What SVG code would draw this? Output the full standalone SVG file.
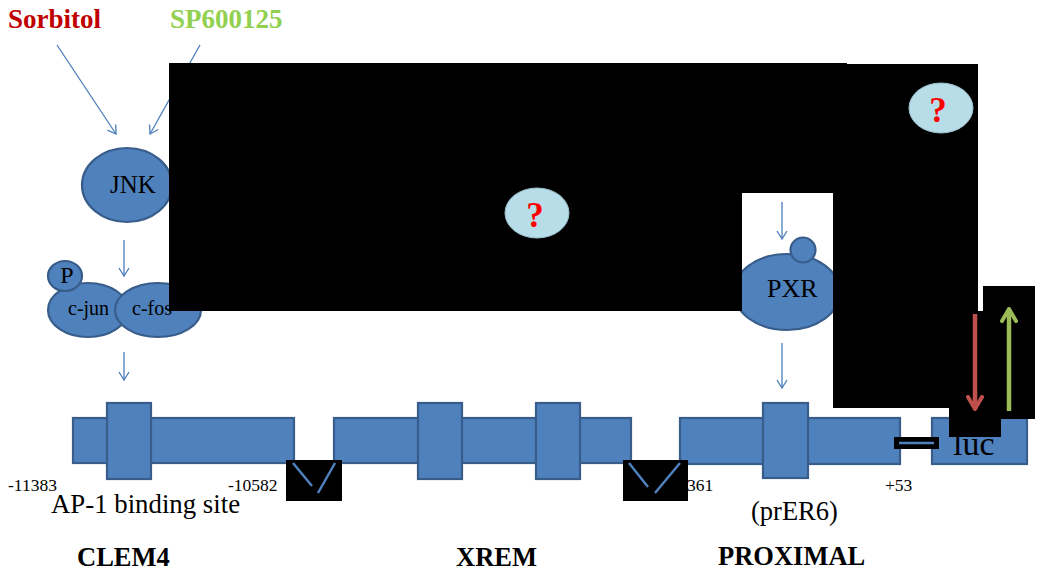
<svg xmlns="http://www.w3.org/2000/svg" width="1040" height="571" viewBox="0 0 1040 571">
<style>
.shape{fill:#4f81bd;stroke:#385d8a;stroke-width:2.2}
.t{font-family:"Liberation Serif","Times New Roman",serif;fill:#000}
.b{font-weight:bold}
.conn{stroke:#4a7ebb;stroke-width:1.3;fill:none}
.blk{fill:#000}
.brk{stroke:#4f81bd;stroke-width:2.5;fill:none}
.q{fill:#b7dde8;stroke:#9cc3d0;stroke-width:1}
.qt{font-family:"Liberation Serif",serif;font-weight:bold;fill:#ff0000;font-size:35px;text-anchor:middle}
</style>
<defs>
<marker id="ab" viewBox="-10 -6 12 12" refX="0" refY="0" markerWidth="12" markerHeight="12" markerUnits="userSpaceOnUse" orient="auto">
<path d="M-8,-5 L0,0 L-8,5" fill="none" stroke="#4a7ebb" stroke-width="1.3"/>
</marker>
<marker id="ar" viewBox="-14 -9 16 18" refX="0" refY="0" markerWidth="16" markerHeight="18" markerUnits="userSpaceOnUse" orient="auto">
<path d="M-12,-7 L0,0 L-12,7" fill="none" stroke="#c0504d" stroke-width="4" stroke-linecap="round" stroke-linejoin="round"/>
</marker>
<marker id="ag" viewBox="-14 -9 16 18" refX="0" refY="0" markerWidth="16" markerHeight="18" markerUnits="userSpaceOnUse" orient="auto">
<path d="M-12,-7 L0,0 L-12,7" fill="none" stroke="#9bbb59" stroke-width="4" stroke-linecap="round" stroke-linejoin="round"/>
</marker>
</defs>
<rect width="1040" height="571" fill="#fff"/>

<g id="sorbitol"><text class="t b" x="8" y="28" font-size="27" style="fill:#c00000">Sorbitol</text></g>
<g id="sp600125"><text class="t b" x="170" y="28" font-size="27" style="fill:#92d050">SP600125</text></g>

<g id="jnk">
<ellipse class="shape" cx="127" cy="185" rx="45" ry="37"/>
<text class="t" x="110" y="193" font-size="25">JNK</text>
</g>

<g id="cjun-cfos">
<ellipse class="shape" cx="88" cy="310" rx="40" ry="27"/>
<ellipse class="shape" cx="158" cy="310" rx="43" ry="27"/>
<text class="t" x="68" y="315" font-size="20">c-jun</text>
<text class="t" x="132" y="315" font-size="20">c-fos</text>
</g>
<g id="p">
<ellipse class="shape" cx="65" cy="276" rx="17" ry="15"/>
<text class="t" x="67" y="283" font-size="24" text-anchor="middle">P</text>
</g>

<g id="pxr">
<ellipse class="shape" cx="787" cy="292" rx="53" ry="38"/>
<circle class="shape" cx="803" cy="250" r="12.5"/>
<text class="t" x="767" y="297" font-size="26">PXR</text>
</g>

<g id="clem4">
<rect class="shape" x="73" y="418" width="221" height="45"/>
<rect class="shape" x="107" y="403" width="44" height="76"/>
</g>
<g id="xrem">
<rect class="shape" x="334" y="418" width="297" height="45"/>
<rect class="shape" x="418" y="403" width="44" height="76"/>
<rect class="shape" x="536" y="403" width="44" height="76"/>
</g>
<g id="proximal">
<rect class="shape" x="680" y="418" width="220" height="46"/>
<rect class="shape" x="763" y="403" width="45" height="75"/>
</g>
<g id="luc">
<rect class="shape" x="932" y="418" width="95" height="46"/>
<text class="t" x="953" y="455" font-size="34">luc</text>
</g>

<g id="connectors">
<line class="conn" x1="57" y1="45" x2="116" y2="134" marker-end="url(#ab)"/>
<line class="conn" x1="200" y1="45" x2="150" y2="134" marker-end="url(#ab)"/>
<line class="conn" x1="124" y1="240" x2="124" y2="276" marker-end="url(#ab)"/>
<line class="conn" x1="124" y1="352" x2="124" y2="380" marker-end="url(#ab)"/>
<line class="conn" x1="782" y1="202" x2="782" y2="239" marker-end="url(#ab)"/>
<line class="conn" x1="782" y1="343" x2="782" y2="388" marker-end="url(#ab)"/>
</g>

<g id="labels">
<text class="t" x="8" y="491" font-size="17.5">-11383</text>
<text class="t" x="228" y="491" font-size="17.5">-10582</text>
<text class="t" x="687" y="491" font-size="17.5">361</text>
<text class="t" x="885" y="491" font-size="17.5">+53</text>
<text class="t" x="51" y="513" font-size="26.8">AP-1 binding site</text>
<text class="t" x="751" y="520" font-size="26.5">(prER6)</text>
<text class="t b" x="77" y="566" font-size="26.5">CLEM4</text>
<text class="t b" x="456" y="566" font-size="26.5">XREM</text>
<text class="t b" x="718" y="565" font-size="26.5">PROXIMAL</text>
</g>

<g id="masks">
<polygon class="blk" points="169,63 847,63 847,64 978,64 978,408 833,408 833,193 742,193 742,311 169,311"/>
<rect class="blk" x="286" y="460" width="56" height="41"/>
<rect class="blk" x="623" y="460" width="65" height="41"/>
<rect class="blk" x="949" y="311" width="52" height="126"/>
<rect class="blk" x="983" y="286" width="52" height="133"/>
<rect class="blk" x="894" y="437" width="45" height="12"/>
</g>

<g id="breaks">
<line class="brk" x1="293" y1="463" x2="312" y2="486"/>
<line class="brk" x1="335" y1="463" x2="318" y2="493"/>
<line class="brk" x1="629" y1="463" x2="648" y2="487"/>
<line class="brk" x1="680" y1="463" x2="655" y2="493"/>
<line class="brk" x1="899" y1="443" x2="934" y2="443"/>
</g>

<g id="q1">
<ellipse class="q" cx="537" cy="213" rx="32" ry="25"/>
<text class="qt" x="535" y="227">?</text>
</g>
<g id="q2">
<ellipse class="q" cx="941" cy="108" rx="32" ry="25"/>
<text class="qt" x="938" y="122">?</text>
</g>

<g id="effect-arrows">
<line x1="975" y1="314" x2="975" y2="409" stroke="#c0504d" stroke-width="4.5" marker-end="url(#ar)"/>
<line x1="1009" y1="411" x2="1009" y2="309" stroke="#9bbb59" stroke-width="4.5" marker-end="url(#ag)"/>
</g>
</svg>
